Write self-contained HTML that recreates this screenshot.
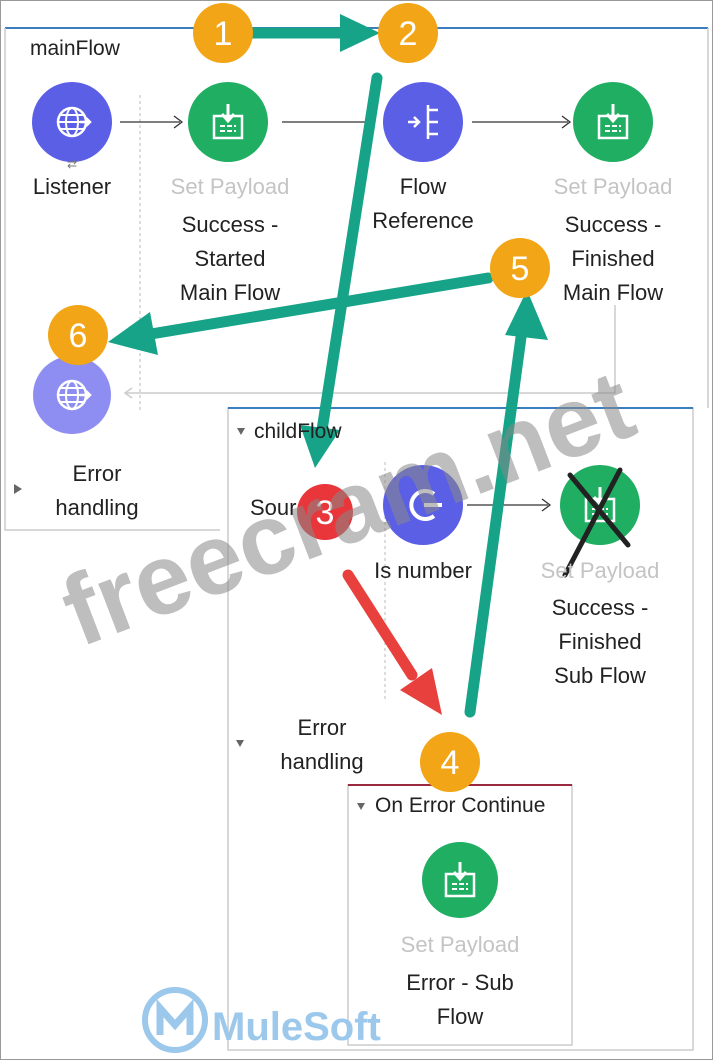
<!DOCTYPE html>
<html><head><meta charset="utf-8"><style>
body{margin:0;background:#fff;}
#c{position:relative;width:713px;height:1060px;overflow:hidden;font-family:"Liberation Sans",sans-serif;background:#fff;}
.t{position:absolute;font-size:22px;color:#222;text-align:center;white-space:nowrap;transform:translateX(-50%);line-height:34px;}
.g{color:#c4c4c4;}
.l{position:absolute;font-size:21px;color:#222;white-space:nowrap;}
</style></head><body><div id="c">
<svg width="713" height="1060" style="position:absolute;left:0;top:0">
<defs>
<g id="pay"><rect x="-14" y="-8" width="28" height="22" fill="none" stroke="#fff" stroke-width="2.5"/><path d="M0 -20V-4M-6 -10L0 -3L6 -10" stroke="#fff" stroke-width="3" fill="none"/><path d="M-8 2h16M-8 7h16" stroke="#fff" stroke-width="2" stroke-dasharray="5 2"/></g>
<g id="glob"><circle r="14" fill="none" stroke="#fff" stroke-width="2.5"/><ellipse rx="6" ry="14" fill="none" stroke="#fff" stroke-width="2"/><path d="M-14 0h28M-12 -7h24M-12 7h24" stroke="#fff" stroke-width="2"/><path d="M8 0h10M14 -4l4 4l-4 4" stroke="#fff" stroke-width="2.5" fill="none"/></g>
</defs>
<rect x="0.5" y="0.5" width="712" height="1059" fill="none" stroke="#999"/>
<path d="M5 28H708" stroke="#3b7ec0" stroke-width="2"/>
<path d="M5 28V530H220M708 28V408" stroke="#ccc" stroke-width="1.5" fill="none"/>
<path d="M140 95V410" stroke="#bbb" stroke-dasharray="3 3"/>
<path d="M120 122H180M174 116l8 6l-8 6M282 122H372M472 122H568M562 116l8 6l-8 6" stroke="#333" stroke-width="1.3" fill="none"/>
<path d="M615 305V393H125M132 388l-7 5l7 5" stroke="#ccc" stroke-width="1.5" fill="none"/>
<circle cx="72" cy="122" r="40" fill="#5b5fe6"/><use href="#glob" x="72" y="122"/>
<text x="72" y="168" font-size="12" fill="#777" text-anchor="middle">⇄</text>
<circle cx="228" cy="122" r="40" fill="#1fae62"/><use href="#pay" x="228" y="124"/>
<circle cx="423" cy="122" r="40" fill="#5b5fe6"/>
<path d="M408 122h10M414 117l5 5l-5 5M428 105v34M428 110h10M428 122h10M428 134h10" stroke="#fff" stroke-width="2.5" fill="none"/>
<circle cx="613" cy="122" r="40" fill="#1fae62"/><use href="#pay" x="613" y="124"/>
<circle cx="72" cy="395" r="39" fill="#8e8ef2"/><use href="#glob" x="72" y="395"/>
<path d="M14 484l8 5l-8 5z" fill="#666"/>
<rect x="228" y="408" width="465" height="642" fill="#fff" stroke="#ccc" stroke-width="1.5"/>
<path d="M228 408H693" stroke="#3b7ec0" stroke-width="2"/>
<path d="M237 428l8 0l-4 7z" fill="#666"/>
<path d="M385 462V700" stroke="#bbb" stroke-dasharray="3 3"/>
<circle cx="423" cy="505" r="40" fill="#5b5fe6"/>
<path d="M434 494a14 14 0 1 0 0 22" stroke="#fff" stroke-width="4" fill="none"/><path d="M424 505h18" stroke="#fff" stroke-width="4"/>
<path d="M467 505H548M542 499l8 6l-8 6" stroke="#333" stroke-width="1.3" fill="none"/>
<circle cx="600" cy="505" r="40" fill="#1fae62"/><use href="#pay" x="600" y="507"/>
<path d="M570 475L628 545M620 470L565 575" stroke="#222" stroke-width="5" stroke-linecap="round"/>
<path d="M236 740l8 0l-4 7z" fill="#666"/>
<rect x="348" y="785" width="224" height="260" fill="#fff" stroke="#ccc" stroke-width="1.5"/>
<path d="M348 785H572" stroke="#9a2a40" stroke-width="2"/>
<path d="M357 803l8 0l-4 7z" fill="#666"/>
<circle cx="460" cy="880" r="38" fill="#1fae62"/><use href="#pay" x="460" y="882"/>
<g fill="#16a387" stroke="#16a387">
<path d="M250 33H345" stroke-width="11" stroke-linecap="round"/><path d="M340 14L380 33L340 52z" stroke="none"/>
<path d="M377 78L322 430" stroke-width="11" stroke-linecap="round"/><path d="M300 425L315 468L340 430z" stroke="none"/>
<path d="M488 278L145 335" stroke-width="11" stroke-linecap="round"/><path d="M150 312L108 342L158 355z" stroke="none"/>
<path d="M470 712L522 330" stroke-width="11" stroke-linecap="round"/><path d="M505 335L527 290L548 340z" stroke="none"/>
</g>
<g fill="#e8403c" stroke="#e8403c">
<path d="M348 575L412 675" stroke-width="11" stroke-linecap="round"/><path d="M400 690L442 715L432 668z" stroke="none"/>
</g>
<g font-size="34" fill="#fff" text-anchor="middle" font-family="Liberation Sans">
<circle cx="223" cy="33" r="30" fill="#f2a516"/><text x="223" y="45">1</text>
<circle cx="408" cy="33" r="30" fill="#f2a516"/><text x="408" y="45">2</text>
<circle cx="520" cy="268" r="30" fill="#f2a516"/><text x="520" y="280">5</text>
<circle cx="78" cy="335" r="30" fill="#f2a516"/><text x="78" y="347">6</text>
<circle cx="450" cy="762" r="30" fill="#f2a516"/><text x="450" y="774">4</text>
<circle cx="325" cy="512" r="28" fill="#e8363a"/><text x="325" y="524">3</text>
</g>
<text x="360" y="540" transform="rotate(-21 360 540)" text-anchor="middle" font-size="100" font-weight="bold" fill="#888" fill-opacity="0.55" font-family="Liberation Sans">freecram.net</text>
<circle cx="175" cy="1020" r="30" fill="none" stroke="#9cc8ec" stroke-width="6"/>
<path d="M160 1035V1008L175 1025L190 1008V1035" stroke="#9cc8ec" stroke-width="7" fill="none"/>
<text x="212" y="1040" font-size="40" font-weight="bold" fill="#9cc8ec" font-family="Liberation Sans">MuleSoft</text>
</svg>
<div class="l" style="left:30px;top:37px">mainFlow</div>
<div class="t" style="left:72px;top:170px">Listener</div>
<div class="t g" style="left:230px;top:170px">Set Payload</div>
<div class="t" style="left:230px;top:208px">Success -<br>Started<br>Main Flow</div>
<div class="t" style="left:423px;top:170px">Flow<br>Reference</div>
<div class="t g" style="left:613px;top:170px">Set Payload</div>
<div class="t" style="left:613px;top:208px">Success -<br>Finished<br>Main Flow</div>
<div class="t" style="left:97px;top:457px">Error<br>handling</div>
<div class="l" style="left:254px;top:420px">childFlow</div>
<div class="l g" style="left:250px;top:495px;font-size:22px">Sour</div>
<div class="t" style="left:423px;top:554px">Is number</div>
<div class="t g" style="left:600px;top:554px">Set Payload</div>
<div class="t" style="left:600px;top:591px">Success -<br>Finished<br>Sub Flow</div>
<div class="t" style="left:322px;top:711px">Error<br>handling</div>
<div class="l" style="left:375px;top:794px">On Error Continue</div>
<div class="t g" style="left:460px;top:928px">Set Payload</div>
<div class="t" style="left:460px;top:966px">Error - Sub<br>Flow</div>
</div></body></html>
